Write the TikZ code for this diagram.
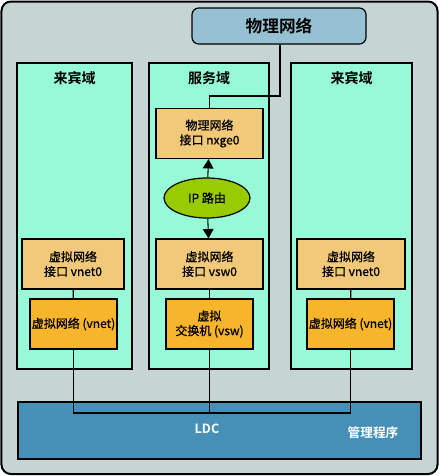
\documentclass[tikz,border=0pt]{standalone}
\usepackage{fontspec}
\setmainfont{Noto Sans CJK SC}[BoldFont={Noto Sans CJK SC Bold}]
\newfontfamily\boxfont{Noto Sans CJK SC}[FakeBold=0.7]
\usetikzlibrary{arrows.meta,shapes.geometric}

\definecolor{frameGray}{HTML}{C6D4D4}
\definecolor{physBlue}{HTML}{95C1D3}
\definecolor{domainGreen}{HTML}{96F9D8}
\definecolor{ifaceTan}{HTML}{F2C979}
\definecolor{vnetOrange}{HTML}{F7B52B}
\definecolor{ipGreen}{HTML}{99CC00}
\definecolor{ldcBlue}{HTML}{4690B8}

\tikzset{
  domainbox/.style={draw,line width=0.9pt,fill=domainGreen,minimum height={306*0.75pt},inner sep=0pt},
  domaintitle/.style={font=\fontsize{10.5}{12}\selectfont\bfseries},
  ifacebox/.style={draw,line width=0.9pt,fill=ifaceTan,minimum height={50*0.75pt},inner sep=0pt,
    align=center,font=\fontsize{9}{11}\selectfont\boxfont},
  vnetbox/.style={draw,line width=0.9pt,fill=vnetOrange,minimum width={87*0.75pt},
    minimum height={50*0.75pt},inner sep=0pt,align=center,font=\fontsize{9}{11}\selectfont\boxfont},
  link/.style={line width=0.8pt},
}

\begin{document}
\begin{tikzpicture}[x=0.75pt,y=-0.75pt]
      \useasboundingbox (0,0) rectangle (440,476);
      \draw[line width=1.5pt,fill=frameGray,rounded corners=7pt] (1.5,1.5) rectangle (437.5,474);

      \node[draw,line width=0.9pt,fill=physBlue,rounded corners=5pt,minimum width={174*0.75pt},
        minimum height={36*0.75pt},font=\fontsize{12.5}{14}\selectfont\bfseries] (phys) at (279,26) {物理网络};

      % domains
      \node[domainbox,minimum width={115*0.75pt}] (guestL) at (74.5,216) {};
      \node[domainbox,minimum width={120*0.75pt}] (service) at (209,216) {};
      \node[domainbox,minimum width={121*0.75pt}] (guestR) at (351.5,216) {};
      \node[domaintitle] (guestLtitle) at (74.5,78) {来宾域};
      \node[domaintitle] (servicetitle) at (209,78) {服务域};
      \node[domaintitle] (guestRtitle) at (351.5,78) {来宾域};

      % hypervisor
      \node[draw,line width=0.9pt,fill=ldcBlue,minimum width={403*0.75pt},minimum height={57*0.75pt}] (ldc) at (219.5,430.5) {};
      \node[text=white,font=\fontsize{9.5}{11}\selectfont\bfseries] (ldctext) at (207,429) {LDC};
      \node[text=white,font=\fontsize{9.5}{11}\selectfont\bfseries] (hyper) at (373,433) {管理程序};

      \node[ifacebox,minimum width={107*0.75pt}] (nxge) at (209.5,133.5) {物理网络\\接口 nxge0};
      \node[draw,line width=0.9pt,fill=ipGreen,ellipse,minimum width={86*0.75pt},minimum height={40*0.75pt},
        inner sep=0pt,font=\fontsize{9}{11}\selectfont\boxfont] (ip) at (207,198) {IP 路由};

      \node[ifacebox,minimum width={102*0.75pt}] (vnet0L) at (73,264) {虚拟网络\\接口 vnet0};
      \node[ifacebox,minimum width={107*0.75pt}] (vsw0) at (209.5,264) {虚拟网络\\接口 vsw0};
      \node[ifacebox,minimum width={108*0.75pt}] (vnet0R) at (351,264) {虚拟网络\\接口 vnet0};

      \node[vnetbox] (vnetL) at (73.5,324) {虚拟网络 (vnet)};
      \node[vnetbox] (vsw) at (209.5,324) {虚拟\\交换机 (vsw)};
      \node[vnetbox] (vnetR) at (350.5,324) {虚拟网络 (vnet)};

      % physical link
      \coordinate (bend) at (280,96);
      \draw[link] (phys.south -| bend) -- (bend) -| (nxge.north);

      \draw[link,-{Triangle[length=7pt,width=8pt]}] (ip) -- (nxge);
      \draw[link,-{Triangle[length=7pt,width=8pt]}] (ip) -- (vsw0);

      \draw[link] (vnet0L) -- (vnetL);
      \draw[link] (vsw0) -- (vsw);
      \draw[link] (vnet0R) -- (vnetR);

      % channel to the switch
      \coordinate (busL) at (73.5,413);
      \coordinate (busR) at (350.5,413);
      \draw[link] (vnetL.south) -- (busL) -- (busR) -- (vnetR.south);
      \draw[link] (vsw.south) -- (vsw.south |- busL);

    \end{tikzpicture}
\end{document}
